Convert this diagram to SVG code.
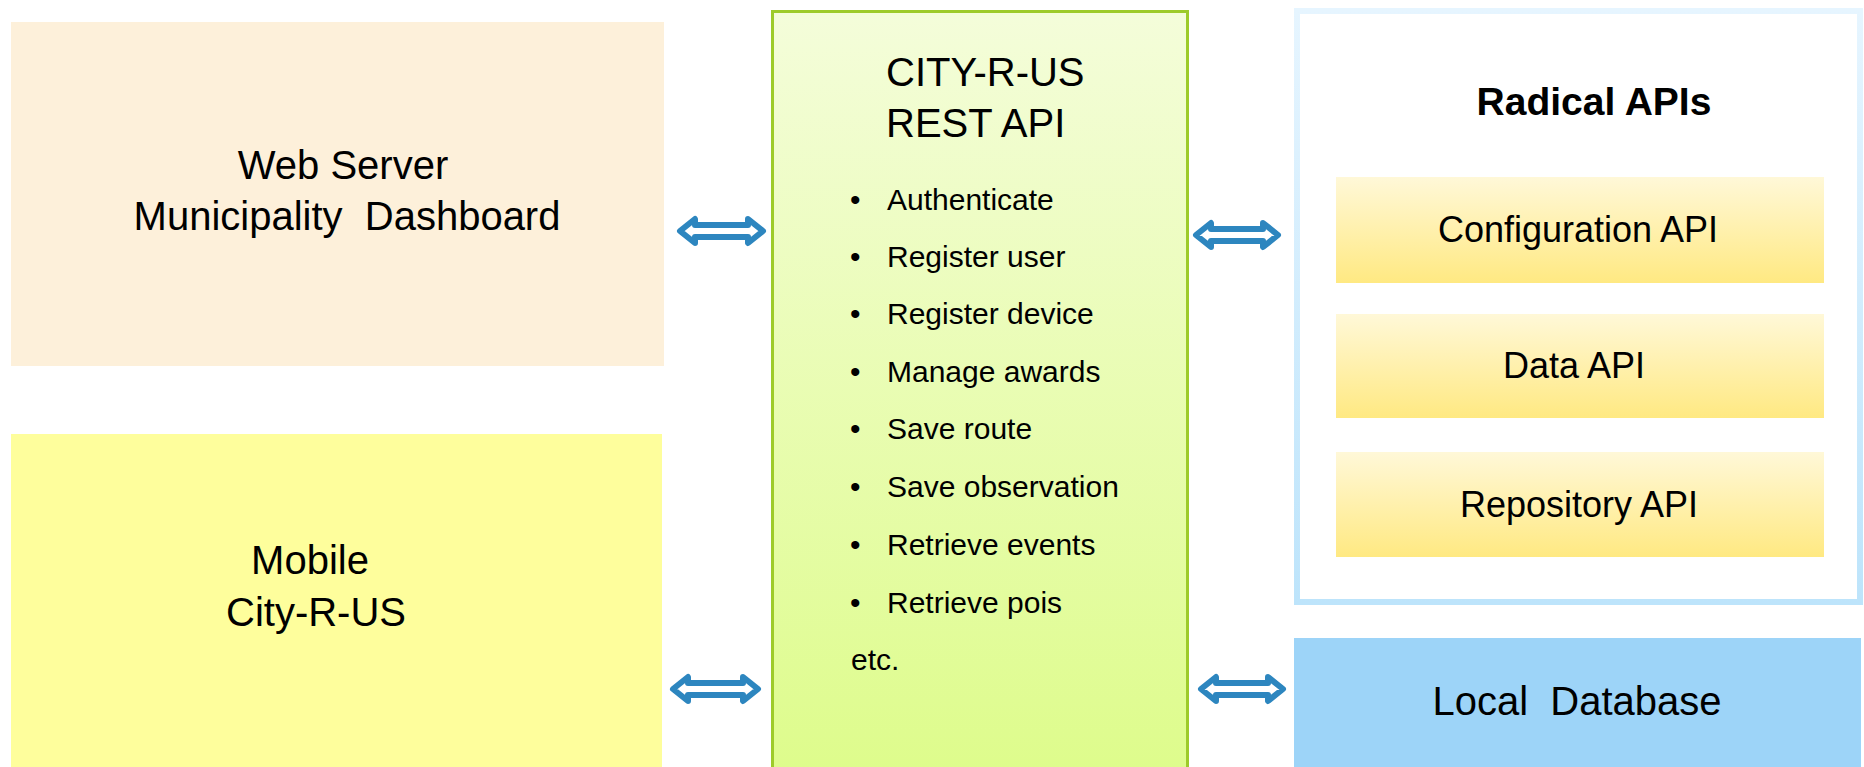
<svg xmlns="http://www.w3.org/2000/svg" width="1864" height="767" viewBox="0 0 1864 767">
  <style>
    text { font-family: "Liberation Sans", Arial, sans-serif; fill: #000; }
    .big { font-size: 40px; }
    .item { font-size: 30px; }
    .api { font-size: 36px; }
    .title { font-size: 39px; font-weight: bold; }
    .arrow { fill: #ffffff; stroke: #2D86BF; stroke-width: 6; stroke-linejoin: round; }
  </style>
  <defs>
    <linearGradient id="gGreen" x1="0" y1="0" x2="0" y2="1">
      <stop offset="0" stop-color="#F4FDDA"/>
      <stop offset="1" stop-color="#DEFC8C"/>
    </linearGradient>
    <linearGradient id="gYellow" x1="0" y1="0" x2="0" y2="1">
      <stop offset="0" stop-color="#FFF8D8"/>
      <stop offset="1" stop-color="#FFE982"/>
    </linearGradient>
    <linearGradient id="gBlueBorder" x1="0" y1="0" x2="0" y2="1">
      <stop offset="0" stop-color="#E6F5FF"/>
      <stop offset="1" stop-color="#BDE4FB"/>
    </linearGradient>
  </defs>
  <rect width="1864" height="767" fill="#ffffff"/>

  <g id="web-server">
    <rect x="11" y="22" width="653" height="344" fill="#FDF0DA"/>
    <text class="big" x="343" y="179" text-anchor="middle">Web Server</text>
    <text class="big" x="347" y="230" text-anchor="middle" xml:space="preserve">Municipality  Dashboard</text>
  </g>

  <g id="mobile">
    <rect x="11" y="434" width="651" height="333" fill="#FEFE9C"/>
    <text class="big" x="310" y="574" text-anchor="middle">Mobile</text>
    <text class="big" x="316" y="626" text-anchor="middle">City-R-US</text>
  </g>

  <g id="rest-api">
    <rect x="772.5" y="11.5" width="415" height="757" fill="url(#gGreen)" stroke="#9DCB2A" stroke-width="3"/>
    <text class="big" x="886" y="86">CITY-R-US</text>
    <text class="big" x="886" y="137">REST API</text>
    <g class="item">
      <text class="item" x="850" y="210">•</text><text class="item" x="887" y="210">Authenticate</text>
      <text class="item" x="850" y="267">•</text><text class="item" x="887" y="267">Register user</text>
      <text class="item" x="850" y="324">•</text><text class="item" x="887" y="324">Register device</text>
      <text class="item" x="850" y="382">•</text><text class="item" x="887" y="382">Manage awards</text>
      <text class="item" x="850" y="439">•</text><text class="item" x="887" y="439">Save route</text>
      <text class="item" x="850" y="497">•</text><text class="item" x="887" y="497">Save observation</text>
      <text class="item" x="850" y="555">•</text><text class="item" x="887" y="555">Retrieve events</text>
      <text class="item" x="850" y="613">•</text><text class="item" x="887" y="613">Retrieve pois</text>
      <text class="item" x="851" y="670">etc.</text>
    </g>
  </g>

  <g id="radical-apis">
    <rect x="1297" y="11" width="563" height="591" fill="#ffffff" stroke="url(#gBlueBorder)" stroke-width="6"/>
    <text class="title" x="1594" y="115" text-anchor="middle">Radical APIs</text>
  </g>

  <g id="configuration-api">
    <rect x="1336" y="177" width="488" height="106" fill="url(#gYellow)"/>
    <text class="api" x="1578" y="242" text-anchor="middle">Configuration API</text>
  </g>

  <g id="data-api">
    <rect x="1336" y="314" width="488" height="104" fill="url(#gYellow)"/>
    <text class="api" x="1574" y="378" text-anchor="middle">Data API</text>
  </g>

  <g id="repository-api">
    <rect x="1336" y="452" width="488" height="105" fill="url(#gYellow)"/>
    <text class="api" x="1579" y="517" text-anchor="middle">Repository API</text>
  </g>

  <g id="local-database">
    <rect x="1294" y="638" width="567" height="129" fill="#9DD4F8"/>
    <text class="big" x="1577" y="715" text-anchor="middle" xml:space="preserve">Local  Database</text>
  </g>

  <g id="connectors">
    <path class="arrow" d="M680,231 L695,219 L695,225 L748,225 L748,219 L763,231 L748,243 L748,237 L695,237 L695,243 Z"/>
    <path class="arrow" d="M1196,235 L1211,223 L1211,229 L1263,229 L1263,223 L1278,235 L1263,247 L1263,241 L1211,241 L1211,247 Z"/>
    <path class="arrow" d="M673,689 L688,677 L688,683 L743,683 L743,677 L758,689 L743,701 L743,695 L688,695 L688,701 Z"/>
    <path class="arrow" d="M1201,689 L1216,677 L1216,683 L1268,683 L1268,677 L1283,689 L1268,701 L1268,695 L1216,695 L1216,701 Z"/>
  </g>
</svg>
